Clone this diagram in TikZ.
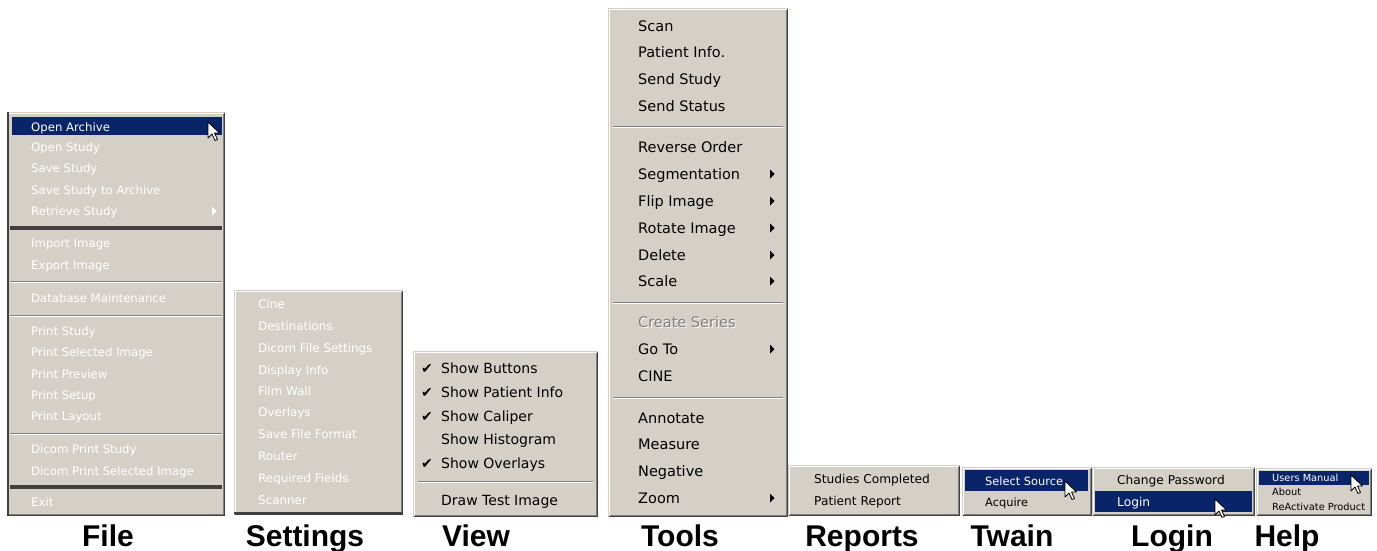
\documentclass[tikz,border=0pt]{standalone}
\usepackage{fontspec}
\setmainfont{DejaVu Sans}
\newfontfamily\labfont{Liberation Sans}
\definecolor{menubg}{HTML}{D4D0C8}
\definecolor{hl}{HTML}{0A246A}
\definecolor{dk}{HTML}{404040}
\definecolor{md}{HTML}{808080}
\newcommand\fsz[1]{\fontsize{#1}{#1}\selectfont}
\newcommand\menupanel[4]{%
  \fill[menubg] (#1,#2) rectangle (#3,#4);
  \draw[white] (#1+1.5,#4-1.5) -- (#1+1.5,#2+1.5) -- (#3-1.5,#2+1.5);
  \draw[md] (#1+1.5,#4-1.5) -- (#3-1.5,#4-1.5) -- (#3-1.5,#2+1.5);
  \draw[dk] (#1+0.5,#4-0.5) -- (#3-0.5,#4-0.5) -- (#3-0.5,#2+0.5);
}
\newcommand\menusep[3]{%
  \draw[md] (#1,#3) -- (#2,#3);
  \draw[white] (#1,#3+1) -- (#2,#3+1);
}
\newcommand\subarrow[3]{\fill[#3] (#1,#2-4.5) -- (#1+4.5,#2) -- (#1,#2+4.5) -- cycle;}
\newcommand\mycursor[2]{\draw[black, fill=white, line width=0.8pt, line join=round, shift={(#1,#2)}] (0,0) -- (0,16) -- (4,12) -- (7,18.5) -- (9.5,17.5) -- (6.5,11) -- (11.5,11) -- cycle;}
\tikzset{
  item/.style={anchor=west, inner sep=0pt, text depth=0pt},
  fileitem/.style={item, text=white, font=\fsz{11.7}, text height=8.5pt},
  setitem/.style={item, text=white, font=\fsz{11.9}, text height=8.7pt},
  viewitem/.style={item, text=black, font=\fsz{14}, text height=10.2pt},
  toolitem/.style={item, text=black, font=\fsz{14.5}, text height=10.6pt},
  smallitem/.style={item, text=black, font=\fsz{12.2}, text height=8.9pt},
  twainitem/.style={item, text=black, font=\fsz{11.4}, text height=8.3pt},
  helpitem/.style={item, text=black, font=\fsz{9.8}, text height=7.2pt},
  caption/.style={anchor=base, inner sep=0pt, font=\labfont\bfseries\fsz{30}},
}
\begin{document}
\begin{tikzpicture}[x=1pt,y=-1pt]
\useasboundingbox (0,0) rectangle (1377,550);
\fill[white] (0,0) rectangle (1377,550);

% ---------------- File ----------------
\menupanel{7}{112}{225}{516}
\draw[dk, line width=2pt] (8,112) -- (8,516);
\fill[hl] (12,117) rectangle (222,135);
\foreach \y/\t [count=\i] in {127/Open Archive,147/Open Study,168/Save Study,190/Save Study to Archive,211/Retrieve Study,243/Import Image,265/Export Image,298/Database Maintenance,331/Print Study,352/Print Selected Image,374/Print Preview,395/Print Setup,416/Print Layout,449/Dicom Print Study,471/Dicom Print Selected Image,502/Exit}
  {\node[fileitem] (file\i) at (31,\y) {\t};}
\subarrow{212}{211}{white}
\fill[dk] (10,225.5) rectangle (222,229.5);
\menusep{10}{222}{281}
\menusep{10}{222}{315}
\menusep{10}{222}{433}
\fill[dk] (10,484.5) rectangle (222,488.5);
\mycursor{208}{122}

% ---------------- Settings ----------------
\menupanel{234}{290}{403}{515}
\foreach \y/\t [count=\i] in {304/Cine,326/Destinations,348/Dicom File Settings,370/Display Info,391/Film Wall,412/Overlays,434/Save File Format,456/Router,478/Required Fields,500/Scanner}
  {\node[setitem] (set\i) at (258,\y) {\t};}
\draw[dk, line width=2pt] (234,513) -- (403,513);

% ---------------- View ----------------
\menupanel{413}{351}{598}{517}
\foreach \y/\t/\c [count=\i] in {368/Show Buttons/1,392/Show Patient Info/1,416/Show Caliper/1,439/Show Histogram/0,463/Show Overlays/1,500/Draw Test Image/0}{
  \node[viewitem] (view\i) at (441,\y) {\t};
  \ifnum\c=1 \node[anchor=center, inner sep=0pt, font=\fsz{14}] (chk\i) at (427,\y+1) {✔};\fi
}
\menusep{418}{593}{481}

% ---------------- Tools ----------------
\menupanel{608}{8}{788}{517}
\foreach \y/\t [count=\i] in {26/Scan,52/Patient Info.,79/Send Study,106/Send Status,147/Reverse Order,174/Segmentation,201/Flip Image,228/Rotate Image,255/Delete,281/Scale,349/Go To,376/CINE,418/Annotate,444/Measure,471/Negative,498/Zoom}
  {\node[toolitem] (tool\i) at (638,\y) {\t};}
\node[toolitem, text=white] (cseries2) at (639,323.5) {Create Series};
\node[toolitem, text=md] (cseries) at (638,322.5) {Create Series};
\foreach \y in {174,201,228,255,281,349,498} {\subarrow{770}{\y}{black}}
\menusep{613}{783}{126}
\menusep{613}{783}{302}
\menusep{613}{783}{397}

% ---------------- Reports ----------------
\menupanel{788}{465}{960}{516}
\node[smallitem] (rep1) at (814,479) {Studies Completed};
\node[smallitem] (rep2) at (814,501) {Patient Report};

% ---------------- Twain ----------------
\menupanel{962}{467}{1092}{516}
\fill[hl] (965,470) rectangle (1088,491);
\node[twainitem, text=white] (tw1) at (985,481) {Select Source};
\node[twainitem] (tw2) at (985,502) {Acquire};
\mycursor{1065}{481}

% ---------------- Login ----------------
\menupanel{1092}{467}{1255}{516}
\fill[hl] (1095,491) rectangle (1252,512);
\node[smallitem] (log1) at (1117,480) {Change Password};
\node[smallitem, text=white] (log2) at (1117,502) {Login};
\mycursor{1215}{499}

% ---------------- Help ----------------
\menupanel{1256}{468}{1372}{516}
\fill[hl] (1259,471) rectangle (1369,485);
\node[helpitem, text=white] (help1) at (1272,478) {Users Manual};
\node[helpitem] (help2) at (1272,492) {About};
\node[helpitem] (help3) at (1272,506.5) {ReActivate Product};
\mycursor{1351}{475}

% ---------------- Captions ----------------
\node[caption] (capFile) at (108,546) {File};
\node[caption] (capSettings) at (305,546) {Settings};
\node[caption] (capView) at (476,546) {View};
\node[caption] (capTools) at (680,546) {Tools};
\node[caption] (capReports) at (862,546) {Reports};
\node[caption] (capTwain) at (1012,546) {Twain};
\node[caption] (capLogin) at (1172,546) {Login};
\node[caption] (capHelp) at (1287,546) {Help};
\end{tikzpicture}
\end{document}
